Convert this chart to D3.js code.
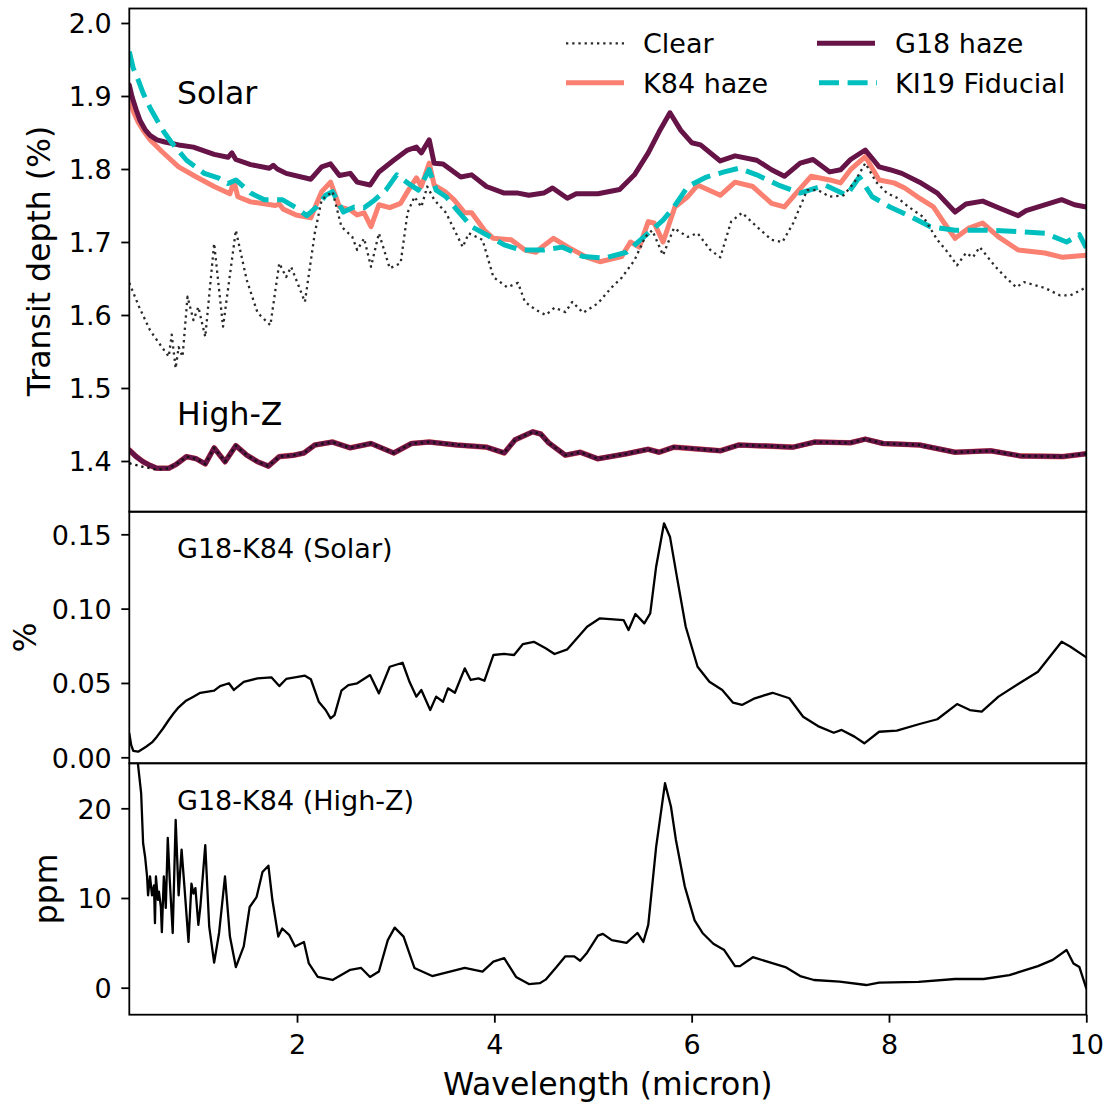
<!DOCTYPE html>
<html>
<head>
<meta charset="utf-8">
<script src="https://cdn.jsdelivr.net/npm/d3@7"></script>
<style>
  html, body { margin: 0; padding: 0; background: #fff; }
  svg { display: block; }
  text { font-family: "DejaVu Sans", sans-serif; fill: #000; }
</style>
</head>
<body>
<svg id="chart" width="1106" height="1102"></svg>
<script>
// ---------------- DATA ----------------
const wavelengthTicks = [2, 4, 6, 8, 10];
const depthTicks = [1.4, 1.5, 1.6, 1.7, 1.8, 1.9, 2.0];
const solarDiffTicks = [0.00, 0.05, 0.10, 0.15];
const highZDiffTicks = [0, 10, 20];

const legendLabels = ["Clear", "K84 haze", "G18 haze", "KI19 Fiducial"];
const panelLabels = ["Solar", "High-Z", "G18-K84 (Solar)", "G18-K84 (High-Z)"];

// Solar, G18 haze (wavelength micron, transit depth %)
const g18Solar = [[0.30,1.915],[0.33,1.898],[0.37,1.881],[0.41,1.866],[0.46,1.854],[0.51,1.846],[0.58,1.840],[0.66,1.837],[0.80,1.833],[0.95,1.830],[1.16,1.820],[1.30,1.816],[1.34,1.822],[1.38,1.813],[1.53,1.806],[1.72,1.801],[1.76,1.805],[1.80,1.800],[1.89,1.794],[2.14,1.786],[2.25,1.803],[2.34,1.807],[2.43,1.791],[2.54,1.794],[2.61,1.782],[2.74,1.778],[2.83,1.796],[2.98,1.812],[3.12,1.826],[3.21,1.830],[3.26,1.822],[3.34,1.840],[3.39,1.808],[3.48,1.807],[3.66,1.789],[3.77,1.792],[3.92,1.776],[4.10,1.767],[4.24,1.767],[4.35,1.764],[4.50,1.767],[4.59,1.774],[4.74,1.760],[4.83,1.766],[5.05,1.766],[5.27,1.772],[5.42,1.792],[5.56,1.822],[5.67,1.851],[5.78,1.877],[5.89,1.853],[6.00,1.836],[6.09,1.833],[6.29,1.811],[6.44,1.818],[6.66,1.812],[6.81,1.799],[6.94,1.790],[7.10,1.808],[7.23,1.813],[7.40,1.796],[7.51,1.799],[7.61,1.813],[7.76,1.826],[7.90,1.803],[8.01,1.799],[8.13,1.794],[8.31,1.782],[8.49,1.767],[8.67,1.741],[8.78,1.752],[8.95,1.756],[9.11,1.747],[9.31,1.736],[9.39,1.743],[9.75,1.758],[9.88,1.751],[10.0,1.748]];

// Solar, K84 haze
const k84Solar = [[0.30,1.899],[0.34,1.879],[0.39,1.864],[0.44,1.853],[0.51,1.840],[0.63,1.824],[0.80,1.803],[0.98,1.789],[1.16,1.776],[1.32,1.766],[1.36,1.783],[1.40,1.762],[1.53,1.755],[1.78,1.750],[1.82,1.752],[1.86,1.745],[1.99,1.737],[2.14,1.733],[2.20,1.753],[2.25,1.769],[2.34,1.782],[2.43,1.748],[2.54,1.744],[2.61,1.737],[2.68,1.740],[2.75,1.721],[2.83,1.751],[2.94,1.747],[3.05,1.753],[3.12,1.769],[3.21,1.788],[3.26,1.776],[3.34,1.808],[3.39,1.778],[3.50,1.769],[3.59,1.758],[3.70,1.740],[3.77,1.740],[3.90,1.716],[3.99,1.705],[4.17,1.703],[4.31,1.689],[4.42,1.686],[4.50,1.695],[4.60,1.705],[4.76,1.692],[4.94,1.679],[5.07,1.673],[5.29,1.680],[5.38,1.700],[5.47,1.693],[5.56,1.728],[5.62,1.726],[5.71,1.700],[5.83,1.748],[5.96,1.762],[6.06,1.778],[6.29,1.764],[6.44,1.782],[6.62,1.776],[6.81,1.753],[6.94,1.748],[7.06,1.767],[7.21,1.790],[7.40,1.785],[7.51,1.781],[7.61,1.799],[7.76,1.817],[7.90,1.785],[8.05,1.781],[8.16,1.774],[8.31,1.760],[8.45,1.748],[8.56,1.726],[8.67,1.705],[8.81,1.719],[8.95,1.726],[9.11,1.707],[9.31,1.689],[9.58,1.685],[9.76,1.679],[10.0,1.682]];

// Solar, KI19 Fiducial
const ki19Solar = [[0.30,1.961],[0.34,1.938],[0.39,1.922],[0.44,1.904],[0.51,1.884],[0.58,1.867],[0.65,1.851],[0.73,1.836],[0.88,1.812],[1.06,1.794],[1.20,1.788],[1.30,1.780],[1.38,1.785],[1.53,1.767],[1.67,1.758],[1.85,1.758],[1.99,1.747],[2.10,1.736],[2.20,1.748],[2.29,1.764],[2.36,1.769],[2.47,1.741],[2.58,1.748],[2.68,1.747],[2.79,1.758],[2.90,1.771],[3.01,1.792],[3.12,1.781],[3.23,1.771],[3.34,1.799],[3.41,1.771],[3.51,1.762],[3.62,1.744],[3.77,1.721],[3.92,1.710],[4.10,1.696],[4.27,1.689],[4.50,1.689],[4.69,1.693],[4.90,1.680],[5.12,1.678],[5.34,1.686],[5.56,1.712],[5.71,1.730],[5.82,1.748],[5.96,1.776],[6.15,1.789],[6.33,1.796],[6.48,1.801],[6.66,1.792],[6.88,1.778],[7.10,1.767],[7.35,1.778],[7.57,1.764],[7.70,1.789],[7.83,1.762],[8.01,1.748],[8.23,1.734],[8.42,1.721],[8.67,1.716],[9.03,1.716],[9.33,1.714],[9.58,1.712],[9.80,1.700],[9.93,1.710],[10.0,1.692]];

// Solar, Clear
const clearSolar = [[0.30,1.644],[0.40,1.611],[0.51,1.579],[0.63,1.556],[0.70,1.543],[0.73,1.573],[0.77,1.527],[0.80,1.556],[0.84,1.543],[0.89,1.625],[0.95,1.593],[1.00,1.611],[1.07,1.570],[1.16,1.698],[1.25,1.584],[1.38,1.716],[1.49,1.648],[1.60,1.603],[1.73,1.586],[1.82,1.671],[1.89,1.652],[1.94,1.666],[2.08,1.618],[2.18,1.712],[2.25,1.758],[2.36,1.769],[2.45,1.721],[2.56,1.707],[2.61,1.689],[2.68,1.705],[2.75,1.666],[2.83,1.712],[2.94,1.664],[3.05,1.671],[3.12,1.740],[3.19,1.762],[3.26,1.748],[3.32,1.776],[3.39,1.758],[3.51,1.740],[3.68,1.693],[3.74,1.712],[3.88,1.703],[3.99,1.652],[4.13,1.638],[4.24,1.644],[4.31,1.618],[4.42,1.607],[4.52,1.600],[4.61,1.610],[4.72,1.604],[4.79,1.618],[4.90,1.603],[5.05,1.616],[5.19,1.638],[5.29,1.651],[5.42,1.675],[5.53,1.707],[5.60,1.716],[5.71,1.682],[5.82,1.719],[5.96,1.707],[6.06,1.712],[6.19,1.689],[6.29,1.679],[6.40,1.728],[6.51,1.740],[6.66,1.721],[6.81,1.703],[6.92,1.700],[7.03,1.726],[7.17,1.771],[7.28,1.771],[7.40,1.762],[7.54,1.764],[7.65,1.782],[7.76,1.808],[7.87,1.782],[7.98,1.767],[8.09,1.760],[8.20,1.748],[8.35,1.734],[8.49,1.703],[8.60,1.685],[8.69,1.668],[8.78,1.685],[8.85,1.679],[8.92,1.693],[9.08,1.666],[9.18,1.652],[9.29,1.638],[9.37,1.645],[9.58,1.637],[9.73,1.627],[9.84,1.627],[10.0,1.638]];

// High-Z, G18 haze (K84 haze coincides at this scale)
const g18HighZ = [[0.30,1.415],[0.37,1.406],[0.44,1.399],[0.51,1.394],[0.58,1.390],[0.70,1.390],[0.77,1.395],[0.88,1.406],[0.98,1.403],[1.07,1.396],[1.16,1.418],[1.27,1.399],[1.38,1.421],[1.49,1.408],[1.60,1.399],[1.71,1.393],[1.82,1.406],[1.97,1.408],[2.07,1.411],[2.18,1.422],[2.36,1.426],[2.54,1.418],[2.75,1.424],[2.98,1.411],[3.16,1.424],[3.34,1.426],[3.62,1.422],[3.92,1.419],[4.10,1.411],[4.21,1.429],[4.39,1.440],[4.47,1.437],[4.55,1.425],[4.72,1.408],[4.87,1.412],[5.05,1.403],[5.34,1.410],[5.56,1.416],[5.67,1.412],[5.82,1.419],[6.29,1.414],[6.48,1.422],[7.03,1.419],[7.25,1.426],[7.61,1.425],[7.76,1.430],[7.94,1.424],[8.31,1.422],[8.67,1.412],[9.03,1.414],[9.33,1.407],[9.76,1.406],[10.0,1.410]];
const k84HighZ = g18HighZ;

// High-Z, Clear
const clearHighZ = [[0.30,1.397],[0.44,1.392],[0.58,1.388],[0.70,1.390],[0.77,1.395],[0.88,1.406],[0.98,1.403],[1.07,1.396],[1.16,1.418],[1.27,1.399],[1.38,1.421],[1.49,1.408],[1.60,1.399],[1.71,1.393],[1.82,1.406],[1.97,1.408],[2.07,1.411],[2.18,1.422],[2.36,1.426],[2.54,1.418],[2.75,1.424],[2.98,1.411],[3.16,1.424],[3.34,1.426],[3.62,1.422],[3.92,1.419],[4.10,1.411],[4.21,1.429],[4.39,1.440],[4.47,1.437],[4.55,1.425],[4.72,1.408],[4.87,1.412],[5.05,1.403],[5.34,1.410],[5.56,1.416],[5.67,1.412],[5.82,1.419],[6.29,1.414],[6.48,1.422],[7.03,1.419],[7.25,1.426],[7.61,1.425],[7.76,1.430],[7.94,1.424],[8.31,1.422],[8.67,1.412],[9.03,1.414],[9.33,1.407],[9.76,1.406],[10.0,1.410]];

// G18-K84 difference, Solar (%)
const diffSolar = [[0.30,0.0161],[0.32,0.0080],[0.34,0.0044],[0.39,0.0038],[0.47,0.0071],[0.53,0.0100],[0.58,0.0139],[0.64,0.0192],[0.70,0.0251],[0.75,0.0296],[0.80,0.0336],[0.87,0.0378],[0.95,0.0408],[1.02,0.0434],[1.16,0.0448],[1.22,0.0479],[1.31,0.0498],[1.36,0.0453],[1.46,0.0508],[1.60,0.0531],[1.74,0.0538],[1.82,0.0479],[1.89,0.0527],[2.08,0.0549],[2.14,0.0525],[2.22,0.0374],[2.29,0.0318],[2.34,0.0262],[2.38,0.0284],[2.45,0.0448],[2.52,0.0486],[2.61,0.0498],[2.74,0.0553],[2.83,0.0430],[2.94,0.0609],[3.07,0.0636],[3.14,0.0508],[3.21,0.0408],[3.26,0.0453],[3.35,0.0318],[3.41,0.0408],[3.48,0.0374],[3.53,0.0464],[3.60,0.0434],[3.70,0.0598],[3.76,0.0520],[3.84,0.0531],[3.90,0.0515],[3.99,0.0688],[4.10,0.0695],[4.20,0.0688],[4.29,0.0762],[4.40,0.0777],[4.52,0.0733],[4.61,0.0695],[4.74,0.0726],[4.94,0.0878],[5.07,0.0935],[5.31,0.0923],[5.36,0.0856],[5.43,0.0964],[5.52,0.0901],[5.58,0.0968],[5.64,0.1282],[5.72,0.1574],[5.78,0.1484],[5.85,0.1215],[5.94,0.0878],[6.06,0.0609],[6.18,0.0508],[6.31,0.0453],[6.42,0.0367],[6.51,0.0352],[6.64,0.0397],[6.82,0.0434],[6.99,0.0397],[7.13,0.0273],[7.28,0.0210],[7.44,0.0165],[7.52,0.0184],[7.65,0.0139],[7.75,0.0094],[7.90,0.0172],[8.08,0.0179],[8.31,0.0224],[8.49,0.0256],[8.69,0.0358],[8.82,0.0318],[8.94,0.0307],[9.11,0.0408],[9.31,0.0493],[9.51,0.0576],[9.75,0.0777],[9.84,0.0744],[10.0,0.0672]];

// G18-K84 difference, High-Z (ppm)
const diffHighZ = [[0.30,40.0],[0.387,25.0],[0.42,21.7],[0.44,16.1],[0.46,14.6],[0.48,12.4],[0.49,10.3],[0.51,12.4],[0.53,10.3],[0.55,11.4],[0.56,7.2],[0.57,12.4],[0.59,9.8],[0.60,10.7],[0.62,9.0],[0.63,6.2],[0.65,12.4],[0.67,8.9],[0.69,16.7],[0.71,12.0],[0.74,6.1],[0.77,18.7],[0.80,10.3],[0.83,15.4],[0.86,11.1],[0.90,5.1],[0.93,11.6],[0.95,10.5],[0.97,11.1],[1.00,7.0],[1.02,9.0],[1.07,15.9],[1.11,6.8],[1.16,2.8],[1.21,6.1],[1.27,12.4],[1.32,5.7],[1.38,2.3],[1.46,4.6],[1.52,9.0],[1.59,10.1],[1.65,12.9],[1.71,13.6],[1.75,9.8],[1.81,5.7],[1.85,6.6],[1.92,5.9],[1.98,4.6],[2.07,5.1],[2.12,2.7],[2.21,1.2],[2.36,0.86],[2.54,2.0],[2.65,2.2],[2.74,1.2],[2.83,1.8],[2.92,5.3],[2.99,6.7],[3.08,5.7],[3.19,2.2],[3.37,1.3],[3.55,1.8],[3.70,2.2],[3.88,1.8],[3.99,2.9],[4.10,3.3],[4.22,1.2],[4.35,0.4],[4.46,0.5],[4.52,0.9],[4.63,2.3],[4.72,3.5],[4.81,3.5],[4.87,3.0],[4.94,3.9],[5.05,5.8],[5.10,6.0],[5.19,5.3],[5.34,5.0],[5.45,6.1],[5.51,5.1],[5.56,7.0],[5.64,15.7],[5.73,22.8],[5.79,20.2],[5.84,16.5],[5.93,11.3],[6.03,7.5],[6.11,6.1],[6.22,4.9],[6.33,4.2],[6.44,2.4],[6.49,2.4],[6.62,3.4],[6.80,2.8],[6.95,2.3],[7.10,1.3],[7.24,0.86],[7.50,0.67],[7.77,0.30],[7.90,0.56],[8.30,0.64],[8.67,0.97],[8.96,0.97],[9.22,1.4],[9.51,2.4],[9.66,3.1],[9.80,4.2],[9.87,2.7],[9.93,2.3],[10.0,-0.07]];

// ---------------- LAYOUT / STYLE ----------------
const C_G18 = "#661347", C_K84 = "#fa8072", C_KI19 = "#00bfbf", C_CLEAR = "#2a2a2a";
const FS_TICK = 27, FS_LABEL = 31.5, FS_LEG = 27;
const L = 129.3, R = 1086.3;
const panels = [
  { top: 8.5,   bottom: 511.7 },
  { top: 511.7, bottom: 763.3 },
  { top: 763.3, bottom: 1014.7 }
];

const svg = d3.select("#chart");
const x = d3.scaleLinear().domain([0.3, 10]).range([L, R]);
const y1 = d3.scaleLinear().domain([1.4, 2.0]).range([461, 23]);
const y2 = d3.scaleLinear().domain([0, 0.15]).range([757.3, 534.3]);
const y3 = d3.scaleLinear().domain([0, 20]).range([987.7, 808.3]);

const defs = svg.append("defs");
panels.forEach((p, i) => {
  defs.append("clipPath").attr("id", "clip" + i)
    .append("rect").attr("x", L).attr("y", p.top).attr("width", R - L).attr("height", p.bottom - p.top);
});

function drawLine(data, y, clip, stroke, width, dash) {
  const line = d3.line().x(d => x(d[0])).y(d => y(d[1]));
  const p = svg.append("path")
    .datum(data)
    .attr("clip-path", "url(#clip" + clip + ")")
    .attr("d", line)
    .attr("fill", "none")
    .attr("stroke", stroke)
    .attr("stroke-width", width)
    .attr("stroke-linejoin", "round")
    .attr("stroke-linecap", dash ? "butt" : "round");
  if (dash) p.attr("stroke-dasharray", dash);
  return p;
}

// Top panel lines
drawLine(k84Solar, y1, 0, C_K84, 5);
drawLine(g18Solar, y1, 0, C_G18, 5);
drawLine(ki19Solar, y1, 0, C_KI19, 5, "20 8.6");
drawLine(clearSolar, y1, 0, C_CLEAR, 2.3, "2.3 3.9");
drawLine(k84HighZ, y1, 0, C_K84, 5.6);
drawLine(g18HighZ, y1, 0, C_G18, 5);
drawLine(clearHighZ, y1, 0, "#111", 2.3, "2.3 3.9");

// Difference panels
drawLine(diffSolar, y2, 1, "#000", 2.3);
drawLine(diffHighZ, y3, 2, "#000", 2.3);

// Spines
panels.forEach(p => {
  svg.append("rect").attr("x", L).attr("y", p.top).attr("width", R - L).attr("height", p.bottom - p.top)
    .attr("fill", "none").attr("stroke", "#000").attr("stroke-width", 1.8);
});

// Axes
function styleAxis(g) {
  g.select(".domain").remove();
  g.selectAll(".tick line").attr("stroke", "#000").attr("stroke-width", 1.8);
  g.selectAll(".tick text").attr("font-size", FS_TICK).attr("font-family", "DejaVu Sans").attr("fill", "#000");
}
const yAxes = [
  [y1, depthTicks, d3.format(".1f")],
  [y2, solarDiffTicks, d3.format(".2f")],
  [y3, highZDiffTicks, d3.format("d")]
];
yAxes.forEach(([sc, ticks, fmt]) => {
  const g = svg.append("g").attr("transform", `translate(${L},0)`)
    .call(d3.axisLeft(sc).tickValues(ticks).tickFormat(fmt).tickSize(8).tickPadding(9.5));
  styleAxis(g);
  g.selectAll(".tick text").attr("dy", "0.36em");
});
const gx = svg.append("g").attr("transform", `translate(0,${panels[2].bottom})`)
  .call(d3.axisBottom(x).tickValues(wavelengthTicks).tickFormat(d3.format("d")).tickSize(8).tickPadding(12.5));
styleAxis(gx);

// Axis labels
svg.append("text").attr("transform", "translate(50,261) rotate(-90)")
  .attr("text-anchor", "middle").attr("font-size", FS_LABEL).text("Transit depth (%)");
svg.append("text").attr("transform", "translate(36,637.5) rotate(-90)")
  .attr("text-anchor", "middle").attr("font-size", FS_LABEL).text("%");
svg.append("text").attr("transform", "translate(57,889) rotate(-90)")
  .attr("text-anchor", "middle").attr("font-size", FS_LABEL).text("ppm");
svg.append("text").attr("x", (L + R) / 2).attr("y", 1095)
  .attr("text-anchor", "middle").attr("font-size", FS_LABEL).text("Wavelength (micron)");

// Panel annotations
svg.append("text").attr("x", 177).attr("y", 103.5).attr("font-size", FS_LABEL).text(panelLabels[0]);
svg.append("text").attr("x", 177).attr("y", 425).attr("font-size", FS_LABEL).text(panelLabels[1]);
svg.append("text").attr("x", 177).attr("y", 557.8).attr("font-size", FS_LEG).text(panelLabels[2]);
svg.append("text").attr("x", 177).attr("y", 809.5).attr("font-size", FS_LEG).text(panelLabels[3]);

// Legend
const legendItems = [
  { label: legendLabels[0], color: C_CLEAR, w: 2.3, dash: "2.3 3.9", x0: 566, y: 43.3, tx: 643 },
  { label: legendLabels[1], color: C_K84,   w: 5,   dash: null,      x0: 566, y: 82.7, tx: 643 },
  { label: legendLabels[2], color: C_G18,   w: 5,   dash: null,      x0: 817, y: 43.3, tx: 895 },
  { label: legendLabels[3], color: C_KI19,  w: 5,   dash: "20 8.6",  x0: 819, y: 82.7, tx: 895 }
];
legendItems.forEach(it => {
  const ln = svg.append("line").attr("x1", it.x0).attr("x2", it.x0 + 58).attr("y1", it.y).attr("y2", it.y)
    .attr("stroke", it.color).attr("stroke-width", it.w);
  if (it.dash) ln.attr("stroke-dasharray", it.dash);
  svg.append("text").attr("x", it.tx).attr("y", it.y + 9.8).attr("font-size", FS_LEG).text(it.label);
});
</script>
</body>
</html>
